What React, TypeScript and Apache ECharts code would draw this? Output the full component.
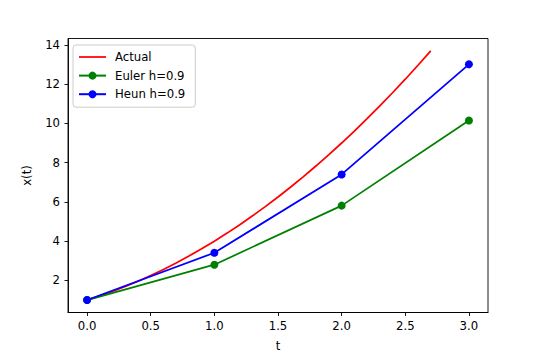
import React, { useEffect, useRef } from "react";
import * as echarts from "echarts";

const actualT = [0, 0.1, 0.2, 0.3, 0.4, 0.5, 0.6, 0.7, 0.8, 0.9, 1.0, 1.1, 1.2, 1.3, 1.4, 1.5, 1.6, 1.7, 1.8, 1.9, 2.0, 2.1, 2.2, 2.3, 2.4, 2.5, 2.6, 2.7];
const actualX = [1, 1.21, 1.44, 1.69, 1.96, 2.25, 2.56, 2.89, 3.24, 3.61, 4.0, 4.41, 4.84, 5.29, 5.76, 6.25, 6.76, 7.29, 7.84, 8.41, 9.0, 9.61, 10.24, 10.89, 11.56, 12.25, 12.96, 13.69];
const stepT = [0, 1, 2, 3];
const eulerX = [1, 2.8, 5.81, 10.15];
const heunX = [1, 3.41, 7.4, 13.01];
const xTicks = [0, 0.5, 1.0, 1.5, 2.0, 2.5, 3.0];
const yTicks = [2, 4, 6, 8, 10, 12, 14];

const FONT = "DejaVu Sans";

export default function App() {
  const ref = useRef<HTMLDivElement>(null);
  useEffect(() => {
    if (!ref.current) return;
    const chart = echarts.init(ref.current, undefined, { renderer: "svg" });
    const zip = (a: number[], b: number[]) => a.map((v, i) => [v, b[i]]);
    chart.setOption({
      animation: false,
      backgroundColor: "#ffffff",
      grid: {
        left: 68,
        right: 50,
        top: 38.5,
        bottom: 45.5,
        show: true,
        borderColor: "#000",
        borderWidth: 0.9,
        backgroundColor: "transparent",
      },
      legend: {
        orient: "vertical",
        left: 73,
        top: 45,
        padding: [5, 10, 6, 5],
        itemWidth: 27,
        itemHeight: 10,
        itemGap: 4.6,
        backgroundColor: "#fff",
        borderColor: "#cccccc",
        borderWidth: 1,
        borderRadius: 3,
        textStyle: { fontFamily: FONT, fontSize: 11.7, color: "#000", padding: [0, 0, 0, 4], lineHeight: 14 },
        data: [
          { name: "Actual", icon: "path://M0,0 L27,0 L27,1.75 L0,1.75 Z" },
          "Euler h=0.9",
          "Heun h=0.9",
        ],
      },
      xAxis: {
        type: "value",
        min: -0.15,
        max: 3.15,
        name: "t",
        nameLocation: "middle",
        nameGap: 27,
        nameTextStyle: { fontFamily: FONT, fontSize: 11.7, color: "#000" },
        axisLine: { show: true, onZero: false, lineStyle: { color: "#000", width: 0.9 } },
        axisTick: { show: true, length: 3.5, lineStyle: { color: "#000", width: 0.9 }, customValues: xTicks },
        axisLabel: {
          fontFamily: FONT,
          fontSize: 11.7,
          color: "#000",
          margin: 7,
          customValues: xTicks,
          formatter: (v: number) => v.toFixed(1),
        },
        splitLine: { show: false },
      },
      yAxis: {
        type: "value",
        min: 0.3655,
        max: 14.3245,
        name: "x(t)",
        nameLocation: "middle",
        nameGap: 35,
        nameRotate: 90,
        nameTextStyle: { fontFamily: FONT, fontSize: 11.7, color: "#000" },
        axisLine: { show: true, onZero: false, lineStyle: { color: "#000", width: 0.9 } },
        axisTick: { show: true, length: 3.5, lineStyle: { color: "#000", width: 0.9 }, customValues: yTicks },
        axisLabel: {
          fontFamily: FONT,
          fontSize: 11.7,
          color: "#000",
          margin: 8,
          customValues: yTicks,
          formatter: (v: number) => String(Math.round(v)),
        },
        splitLine: { show: false },
      },
      series: [
        {
          name: "Actual",
          type: "line",
          data: zip(actualT, actualX),
          symbol: "none",
          lineStyle: { color: "#ff0000", width: 1.75 },
          itemStyle: { color: "#ff0000" },
        },
        {
          name: "Euler h=0.9",
          type: "line",
          data: zip(stepT, eulerX),
          symbol: "circle",
          symbolSize: 8,
          lineStyle: { color: "#008000", width: 1.75 },
          itemStyle: { color: "#008000" },
        },
        {
          name: "Heun h=0.9",
          type: "line",
          data: zip(stepT, heunX),
          symbol: "circle",
          symbolSize: 8,
          lineStyle: { color: "#0000ff", width: 1.75 },
          itemStyle: { color: "#0000ff" },
        },
      ],
    });
    return () => chart.dispose();
  }, []);
  return <div ref={ref} style={{ width: 538, height: 358, position: "absolute", left: 0, top: 0 }} />;
}
